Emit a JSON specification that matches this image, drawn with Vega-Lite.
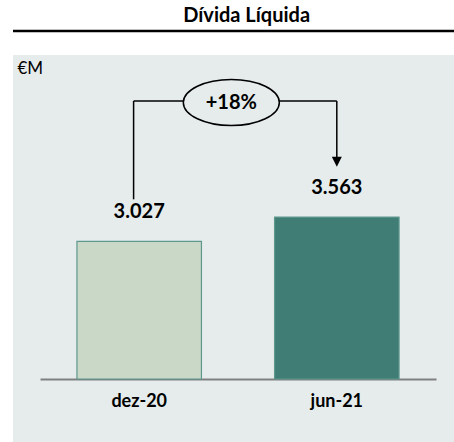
{
  "$schema": "https://vega.github.io/schema/vega-lite/v6.json",
  "autosize": {"type": "none"},
  "width": 441,
  "height": 387,
  "padding": {"left": 13, "top": 55, "right": 0, "bottom": 0},
  "background": "white",
  "config": {
    "view": {"stroke": null, "fill": "#e6ecec"},
    "locale": {"number": {"decimal": ",", "thousands": ".", "grouping": [3], "currency": ["€", ""]}}
  },
  "datasets": {
    "bars": [
      {"period": "dez-20", "value": 3027},
      {"period": "jun-21", "value": 3563}
    ],
    "one": [{"k": 1}]
  },
  "layer": [
    {
      "data": {"name": "bars"},
      "mark": {"type": "bar", "stroke": "#5d988e", "strokeWidth": 1.2},
      "encoding": {
        "x": {
          "field": "period",
          "type": "nominal",
          "sort": null,
          "scale": {"range": [27, 423], "paddingInner": 0.37, "paddingOuter": 0.187},
          "axis": {
            "orient": "bottom",
            "offset": -63,
            "title": null,
            "labelAngle": 0,
            "ticks": false,
            "domainColor": "#808080",
            "domainWidth": 2,
            "labelFont": "Lato",
            "labelFontSize": 18,
            "labelFontWeight": "bold",
            "labelColor": "#000000",
            "labelPadding": 13
          }
        },
        "y": {
          "field": "value",
          "type": "quantitative",
          "scale": {"domain": [-1386, 7128], "nice": false, "zero": false},
          "axis": {
            "title": "€M",
            "titleAngle": 0,
            "titleAlign": "left",
            "titleBaseline": "alphabetic",
            "titleX": 4,
            "titleY": 18,
            "titleFont": "Lato",
            "titleFontSize": 17,
            "titleFontWeight": "normal",
            "titleColor": "#000000",
            "labels": false,
            "ticks": false,
            "domain": false,
            "grid": false
          }
        },
        "y2": {"datum": 0},
        "color": {
          "field": "period",
          "type": "nominal",
          "sort": null,
          "scale": {"range": ["#cad8c8", "#407d74"]},
          "legend": null
        }
      }
    },
    {
      "data": {"name": "bars"},
      "mark": {"type": "text", "baseline": "alphabetic", "dy": -23, "font": "Lato", "fontSize": 20, "fontWeight": "bold", "color": "#000000"},
      "encoding": {
        "x": {"field": "period", "type": "nominal", "sort": null},
        "y": {"field": "value", "type": "quantitative"},
        "text": {"field": "value", "type": "quantitative", "format": ",d"}
      }
    },
    {
      "data": {"name": "one"},
      "mark": {"type": "rule", "color": "#000000", "strokeWidth": 2.5},
      "encoding": {
        "y": {"datum": 7656, "type": "quantitative"}
      }
    },
    {
      "data": {"name": "one"},
      "mark": {"type": "text", "text": "Dívida Líquida", "baseline": "alphabetic", "font": "Lato", "fontSize": 20, "fontWeight": "bold", "color": "#000000"},
      "encoding": {
        "x": {"datum": "dez-20", "type": "nominal", "bandPosition": 1.363},
        "y": {"datum": 7850, "type": "quantitative"}
      }
    },
    {
      "data": {"name": "one"},
      "mark": {"type": "rule", "color": "#000000", "strokeWidth": 1.5},
      "encoding": {
        "x": {"datum": "dez-20", "type": "nominal", "bandPosition": 0.455},
        "y": {"datum": 3953, "type": "quantitative"},
        "y2": {"datum": 6116}
      }
    },
    {
      "data": {"name": "one"},
      "mark": {"type": "rule", "color": "#000000", "strokeWidth": 1.5},
      "encoding": {
        "x": {"datum": "dez-20", "type": "nominal", "bandPosition": 0.455},
        "x2": {"datum": "jun-21", "bandPosition": 0.5},
        "y": {"datum": 6116, "type": "quantitative"}
      }
    },
    {
      "data": {"name": "one"},
      "mark": {"type": "rule", "color": "#000000", "strokeWidth": 1.5},
      "encoding": {
        "x": {"datum": "jun-21", "type": "nominal", "bandPosition": 0.5},
        "y": {"datum": 6116, "type": "quantitative"},
        "y2": {"datum": 4790}
      }
    },
    {
      "data": {"name": "one"},
      "mark": {"type": "point", "shape": "M -1 -1 L 1 -1 L 0 1 Z", "size": 100, "filled": true, "color": "#000000", "opacity": 1},
      "encoding": {
        "x": {"datum": "jun-21", "type": "nominal", "bandPosition": 0.5},
        "y": {"datum": 4781, "type": "quantitative"}
      }
    },
    {
      "data": {"name": "one"},
      "mark": {"type": "point", "shape": "M -1 0 A 1 0.48 0 1 1 1 0 A 1 0.48 0 1 1 -1 0 Z", "size": 9216, "filled": true, "fill": "#e6ecec", "stroke": "#000000", "strokeWidth": 1.5, "opacity": 1},
      "encoding": {
        "x": {"datum": "dez-20", "type": "nominal", "bandPosition": 1.24},
        "y": {"datum": 6083, "type": "quantitative"}
      }
    },
    {
      "data": {"name": "one"},
      "mark": {"type": "text", "text": "+18%", "baseline": "middle", "font": "Lato", "fontSize": 20, "fontWeight": "bold", "color": "#000000"},
      "encoding": {
        "x": {"datum": "dez-20", "type": "nominal", "bandPosition": 1.24},
        "y": {"datum": 6083, "type": "quantitative"}
      }
    }
  ]
}
